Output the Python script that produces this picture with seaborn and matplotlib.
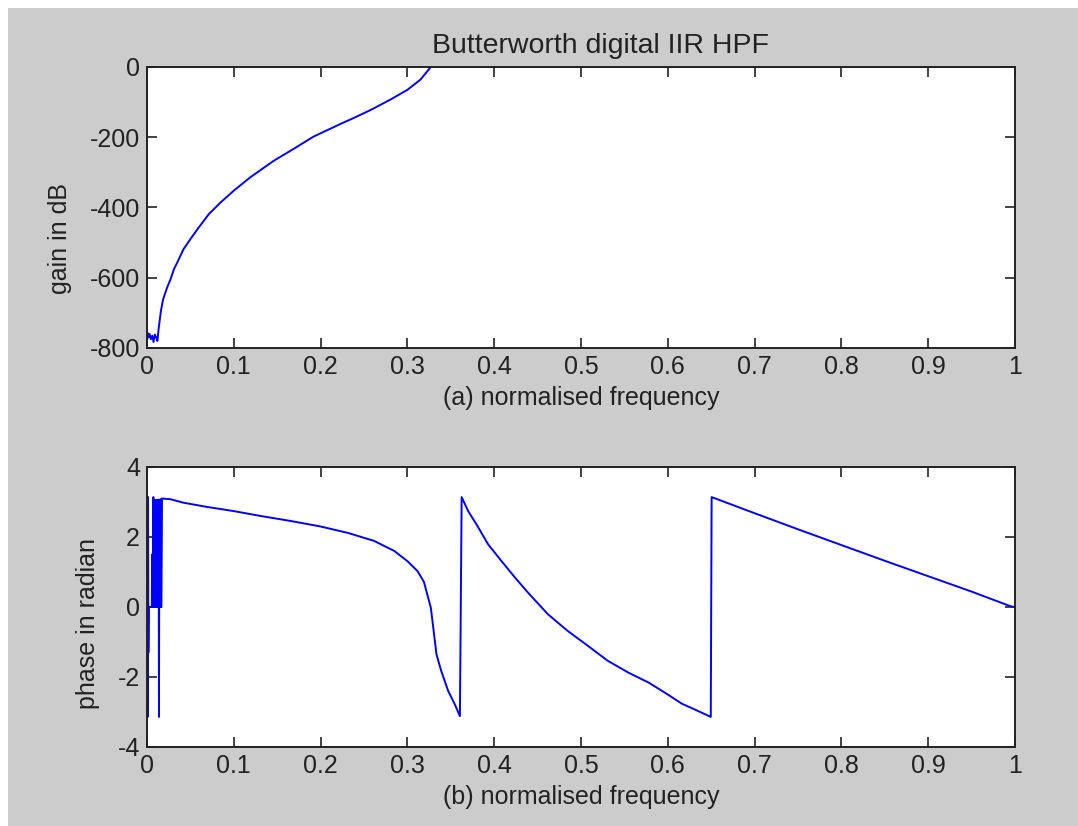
import numpy as np
import pandas as pd
import matplotlib
matplotlib.use("Agg")
import matplotlib.pyplot as plt
import seaborn as sns
from matplotlib.patches import Rectangle

# gain curve (dB)
gain_f = [0.0, 0.0008, 0.0016, 0.003, 0.0045, 0.006, 0.0075, 0.009, 0.0105, 0.012,
          0.0135, 0.016, 0.0185, 0.023, 0.027, 0.031, 0.0365, 0.042, 0.05, 0.0596,
          0.0712, 0.0846, 0.1, 0.119, 0.146, 0.169, 0.192, 0.223, 0.24, 0.258,
          0.281, 0.3, 0.315, 0.327, 0.34, 0.5, 0.75, 1.0]
gain_db = [-781, -757, -770, -760, -775, -765, -783, -762, -770, -780,
           -743, -695, -662, -629, -605, -576, -548, -519, -490, -457,
           -419, -386, -352, -314, -267, -233, -198, -162, -143, -122,
           -92, -65, -36, 0, 0, 0, 0, 0]

# phase curve (rad)
phase_f = [0.0, 0.0004, 0.0008, 0.0012, 0.0016, 0.002, 0.0056, 0.0058, 0.006,
           0.0071, 0.0073, 0.0075, 0.0088, 0.009, 0.0092, 0.0098, 0.01, 0.0102,
           0.0108, 0.011, 0.0112, 0.0118, 0.012, 0.0122, 0.0128, 0.013, 0.0132,
           0.0136, 0.0138, 0.014, 0.0146, 0.0148, 0.015, 0.0156, 0.0158, 0.016,
           0.0166, 0.0173, 0.027, 0.042, 0.069, 0.1, 0.131, 0.165, 0.2, 0.231,
           0.2615, 0.285, 0.3, 0.3115, 0.319, 0.327, 0.3335, 0.339, 0.347, 0.3546,
           0.3605, 0.3615, 0.3625, 0.37, 0.3796, 0.393, 0.4085, 0.424, 0.439,
           0.462, 0.485, 0.508, 0.531, 0.555, 0.578, 0.6, 0.616, 0.633, 0.6495,
           0.6505, 0.7, 0.75, 0.8, 0.85, 0.9, 0.95, 0.995, 1.0]
phase_rad = [-3.14, 3.14, -3.14, 3.14, -1.3, 0.0, 0.0, 1.5, 0.0,
             0.0, 3.14, 0.0, 0.0, 3.05, 0.0, 0.0, 3.05, 0.0,
             0.0, 3.05, 0.0, 0.0, 3.06, 0.0, 0.0, 3.06, 0.0,
             0.0, -3.14, 0.0, 0.0, 3.07, 0.0, 0.0, 3.08, 0.0,
             0.0, 3.1, 3.08, 2.98, 2.86, 2.74, 2.6, 2.46, 2.3, 2.12,
             1.89, 1.6, 1.31, 1.03, 0.72, -0.02, -1.35, -1.83, -2.4, -2.78,
             -3.12, 0.0, 3.14, 2.74, 2.36, 1.79, 1.31, 0.84, 0.41,
             -0.21, -0.69, -1.11, -1.54, -1.88, -2.16, -2.5, -2.76, -2.95, -3.14,
             3.14, 2.68, 2.22, 1.77, 1.32, 0.88, 0.44, 0.02, 0.0]

xticks = [0, 0.1, 0.2, 0.3, 0.4, 0.5, 0.6, 0.7, 0.8, 0.9, 1]
xtick_labels = ["0", "0.1", "0.2", "0.3", "0.4", "0.5", "0.6", "0.7", "0.8", "0.9", "1"]

sns.set_style("ticks")
plt.rcParams["font.family"] = ["Liberation Sans", "DejaVu Sans"]
plt.rcParams["axes.unicode_minus"] = False

fs = 18
grey = "#cccccc"
fig = plt.figure(figsize=(10.78, 8.26), dpi=100, facecolor="white")
# grey window area, with a thin white strip on the top and left edges
fig.patches.append(Rectangle((8 / 1078, 0), 1 - 8 / 1078, 1 - 8 / 826,
                             transform=fig.transFigure, facecolor=grey,
                             edgecolor="none", zorder=-10))

ax1 = fig.add_axes([147 / 1078, 1 - 348 / 826, 868 / 1078, 281 / 826])
ax2 = fig.add_axes([147 / 1078, 1 - 747 / 826, 868 / 1078, 280 / 826])

df_gain = pd.DataFrame({"f": gain_f, "gain": gain_db})
df_phase = pd.DataFrame({"f": phase_f, "phase": phase_rad})

sns.lineplot(data=df_gain, x="f", y="gain", ax=ax1, color="#0000ff",
             linewidth=1.4, sort=False, estimator=None)
sns.lineplot(data=df_phase, x="f", y="phase", ax=ax2, color="#0000ff",
             linewidth=1.4, sort=False, estimator=None)

ax1.set_ylim(-800, 0)
ax1.set_yticks([-800, -600, -400, -200, 0])
ax2.set_ylim(-4, 4)
ax2.set_yticks([-4, -2, 0, 2, 4])

for ax in (ax1, ax2):
    ax.set_facecolor("white")
    ax.set_xlim(0, 1)
    ax.set_xticks(xticks)
    ax.set_xticklabels(xtick_labels)
    ax.tick_params(direction="in", length=7, width=1.2, color="#222222",
                   labelsize=fs, labelcolor="#222222", top=True, right=True,
                   pad=5)
    for s in ax.spines.values():
        s.set_visible(True)
        s.set_color("#222222")
        s.set_linewidth(1.4)

ax1.set_title("Butterworth digital IIR HPF", fontsize=20.5, color="#222222",
              pad=10, x=0.522)
ax1.set_xlabel("(a) normalised frequency", fontsize=fs, color="#222222", labelpad=5)
ax1.set_ylabel("gain in dB", fontsize=fs, color="#222222")
ax2.set_xlabel("(b) normalised frequency", fontsize=fs, color="#222222", labelpad=5)
ax2.set_ylabel("phase in radian", fontsize=fs, color="#222222")
ax1.yaxis.set_label_coords(-0.086, 0.39)
ax2.yaxis.set_label_coords(-0.054, 0.44)

fig.savefig("out.png", dpi=100, facecolor=fig.get_facecolor())
